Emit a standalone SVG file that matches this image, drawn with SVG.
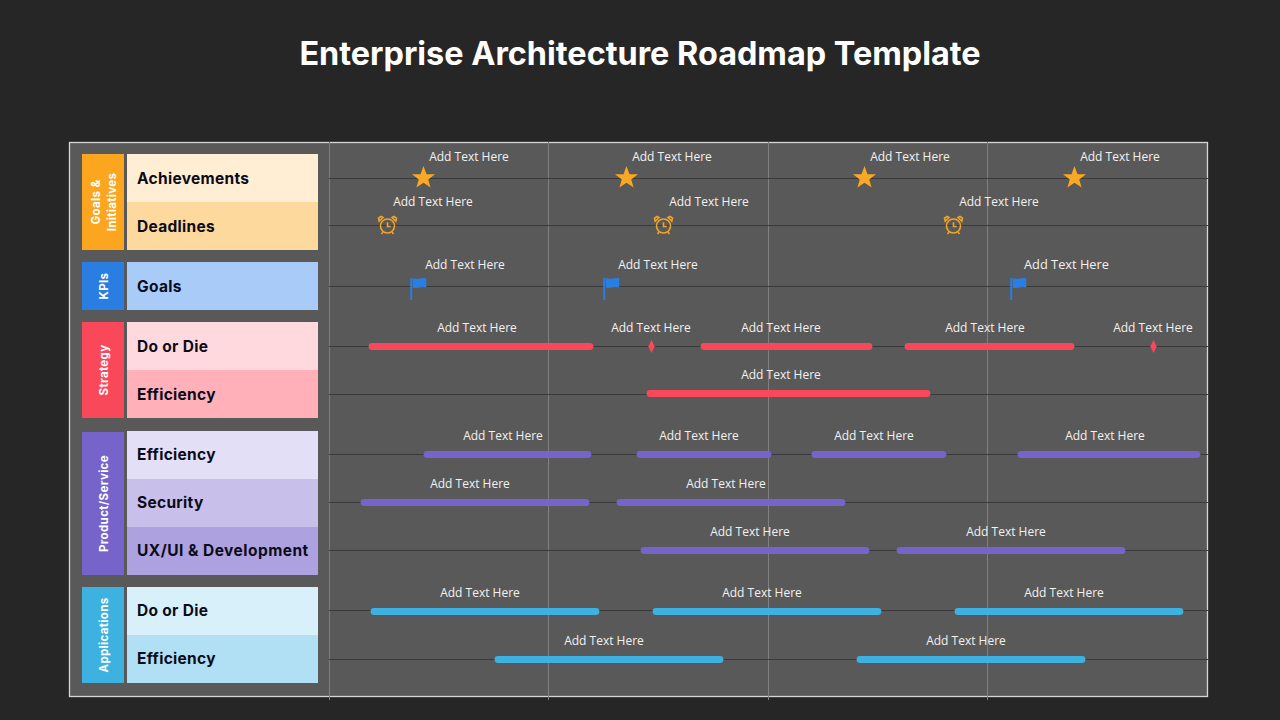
<svg xmlns="http://www.w3.org/2000/svg" width="1280" height="720" viewBox="0 0 1280 720">
<style>
.title{font:700 32.4px Inter,"Liberation Sans",sans-serif;fill:#fff;text-anchor:middle}
.row{font:700 15.500px Inter,"Liberation Sans",sans-serif;fill:#0b0b1a;letter-spacing:.3px}
.cat{font:700 11.500px Inter,"Liberation Sans",sans-serif;fill:#fff;text-anchor:middle;letter-spacing:.35px}
.t{font:12px "Open Sans","Liberation Sans",sans-serif;fill:#f2f2f2;text-anchor:middle}
.h{stroke:#3a3a3a;stroke-width:1.2;fill:none}
.v{stroke:#808080;stroke-width:1;fill:none}
.b{stroke-width:6.800;stroke-linecap:round;fill:none}
.r{stroke:#f9485a}.p{stroke:#7664cb}.c{stroke:#3db2e0}
.ck{fill:none;stroke:#f0a428;stroke-width:1.600}
</style>
<defs>
<polygon id="star" points="0,-12 3,-3.800 11.500,-3.800 4.700,1.400 7.100,9.600 0,4.700 -7.100,9.600 -4.700,1.400 -11.500,-3.800 -3,-3.800" fill="#f9a825"/>
<g id="clock"><circle cx="0" cy="1" r="7" class="ck"/><path d="M0-2.800V1.500H3.300M-8.300-3.800L-4.500-7.500-6.500-8.500-9-6.800ZM8.300-3.800L4.500-7.500 6.500-8.500 9-6.800ZM-4.500 7L-6 9M4.500 7L6 9" class="ck"/></g>
<g id="flag"><rect x="-0.300" y="-9" width="2" height="22" fill="#2a7de1"/><path d="M2.200-9Q6-7.800 9-8.500T15.700-9V0.500Q12 -0.300 9 0.500T2.200 0.800Z" fill="#2a7de1"/></g>
<polygon id="dia" points="0,-6.500 3.200,0 0,6.500 -3.200,0" fill="#f9485a"/>
</defs>
<rect width="1280" height="720" fill="#262626"/>
<text id="title" class="title" x="640" y="65">Enterprise Architecture Roadmap Template</text>
<rect id="panel" x="69.500" y="142.500" width="1138" height="554" fill="#595959" stroke="#d6d6d6" stroke-width="1.300"/>
<g id="connectors">
<path class="v" d="M329.500 142V700M548.500 142V700M768.500 142V700M987.500 142V700"/>
<path class="h" d="M329 178.500H1208M329 225.500H1208M329 286.500H1208M329 346.500H1208M329 394.500H1208M329 454.500H1208M329 502.500H1208M329 550.500H1208M329 610.500H1208M329 659.500H1208"/>
</g>
<g id="goals">
<rect x="82" y="154" width="42" height="96" fill="#fba61e"/>
<text class="cat" transform="translate(100 202) rotate(-90)">Goals &amp;</text>
<text class="cat" transform="translate(115.500 202) rotate(-90)">Initiatives</text>
<rect x="127" y="154" width="191" height="48" fill="#ffeed3"/>
<rect x="127" y="202" width="191" height="48" fill="#fed99e"/>
<text class="row" x="137" y="184">Achievements</text>
<text class="row" x="137" y="232">Deadlines</text>
</g>
<g id="kpis">
<rect x="82" y="262" width="42" height="48" fill="#2a7de1"/>
<text class="cat" transform="translate(107.500 286) rotate(-90)">KPIs</text>
<rect x="127" y="262" width="191" height="48" fill="#a9cbf7"/>
<text class="row" x="137" y="292">Goals</text>
</g>
<g id="strategy">
<rect x="82" y="322" width="42" height="96" fill="#f9485a"/>
<text class="cat" transform="translate(107.500 370) rotate(-90)">Strategy</text>
<rect x="127" y="322" width="191" height="48" fill="#ffd9de"/>
<rect x="127" y="370" width="191" height="48" fill="#ffb0b8"/>
<text class="row" x="137" y="352">Do or Die</text>
<text class="row" x="137" y="400">Efficiency</text>
</g>
<g id="product">
<rect x="82" y="432" width="42" height="143" fill="#7664cb"/>
<text class="cat" transform="translate(107.500 503.500) rotate(-90)">Product/Service</text>
<rect x="127" y="431" width="191" height="48" fill="#e3dff6"/>
<rect x="127" y="479" width="191" height="48" fill="#c8c0eb"/>
<rect x="127" y="527" width="191" height="48" fill="#ada1e0"/>
<text class="row" x="137" y="460">Efficiency</text>
<text class="row" x="137" y="508">Security</text>
<text class="row" x="137" y="556" style="letter-spacing:.47px">UX/UI &amp; Development</text>
</g>
<g id="applications">
<rect x="82" y="587" width="42" height="96" fill="#3db2e0"/>
<text class="cat" transform="translate(107.500 635) rotate(-90)">Applications</text>
<rect x="127" y="587" width="191" height="48" fill="#d8f0f9"/>
<rect x="127" y="635" width="191" height="48" fill="#b1dff3"/>
<text class="row" x="137" y="616">Do or Die</text>
<text class="row" x="137" y="664">Efficiency</text>
</g>
<g id="bars">
<path class="b r" d="M372 346.500H590M704 346.500H869M908 346.500H1071M650 393.500H927"/>
<path class="b p" d="M427 454.500H588M640 454.500H768M815 454.500H943M1021 454.500H1197M364 502.500H586M620 502.500H842M644 550.500H866M900 550.500H1122"/>
<path class="b c" d="M374 611.500H596M656 611.500H878M958 611.500H1180M498 659.500H720M860 659.500H1082"/>
</g>
<g id="markers">
<use href="#star" x="423.500" y="178"/><use href="#star" x="626.500" y="178"/><use href="#star" x="864.500" y="178"/><use href="#star" x="1074.500" y="178"/>
<use href="#clock" x="387.500" y="225"/><use href="#clock" x="663.500" y="225"/><use href="#clock" x="953.500" y="225"/>
<use href="#flag" x="410.500" y="287"/><use href="#flag" x="603.500" y="287"/><use href="#flag" x="1010.500" y="287"/>
<use href="#dia" x="651.500" y="346.500"/><use href="#dia" x="1153.500" y="346.500"/>
</g>
<g id="labels">
<text class="t" x="469" y="161">Add Text Here</text><text class="t" x="672" y="161">Add Text Here</text><text class="t" x="910" y="161">Add Text Here</text><text class="t" x="1120" y="161">Add Text Here</text>
<text class="t" x="433" y="206">Add Text Here</text><text class="t" x="709" y="206">Add Text Here</text><text class="t" x="999" y="206">Add Text Here</text>
<text class="t" x="465" y="269">Add Text Here</text><text class="t" x="658" y="269">Add Text Here</text><text class="t" x="1066.500" y="269" style="font-size:12.800px">Add Text Here</text>
<text class="t" x="477" y="332">Add Text Here</text><text class="t" x="651" y="332">Add Text Here</text><text class="t" x="781" y="332">Add Text Here</text><text class="t" x="985" y="332">Add Text Here</text><text class="t" x="1153" y="332">Add Text Here</text>
<text class="t" x="781" y="379">Add Text Here</text>
<text class="t" x="503" y="440">Add Text Here</text><text class="t" x="699" y="440">Add Text Here</text><text class="t" x="874" y="440">Add Text Here</text><text class="t" x="1105" y="440">Add Text Here</text>
<text class="t" x="470" y="488">Add Text Here</text><text class="t" x="726" y="488">Add Text Here</text>
<text class="t" x="750" y="536">Add Text Here</text><text class="t" x="1006" y="536">Add Text Here</text>
<text class="t" x="480" y="597">Add Text Here</text><text class="t" x="762" y="597">Add Text Here</text><text class="t" x="1064" y="597">Add Text Here</text>
<text class="t" x="604" y="645">Add Text Here</text><text class="t" x="966" y="645">Add Text Here</text>
</g>
</svg>
